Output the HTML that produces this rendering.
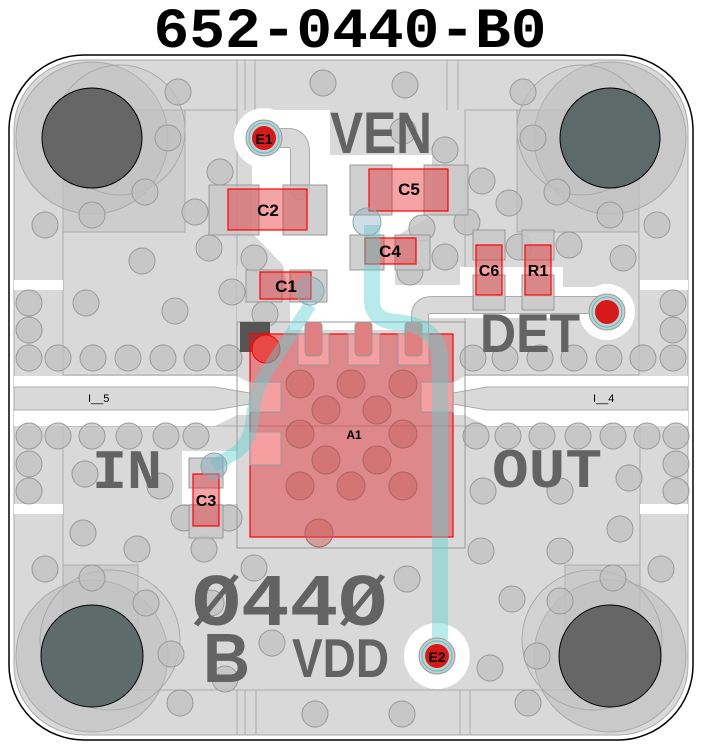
<!DOCTYPE html>
<html><head><meta charset="utf-8"><style>
html,body{margin:0;padding:0;background:#fff;}
svg{display:block;}
</style></head><body>
<svg width="701" height="746" viewBox="0 0 701 746" xmlns="http://www.w3.org/2000/svg" font-family="Liberation Sans, sans-serif">
<text x="350" y="47" text-anchor="middle" font-family="Liberation Mono, monospace" font-weight="bold" font-size="57" textLength="393" lengthAdjust="spacingAndGlyphs" fill="#000">652-0440-B0</text>
<rect x="9" y="55" width="684" height="685" rx="75" fill="#fff" stroke="#000" stroke-width="1.5"/>
<rect x="14" y="60" width="674" height="675" rx="70" fill="#d9d9d9" stroke="#aaa"/>
<!-- darker blocks -->
<g fill="#cdcdcd" stroke="#aaa">
<rect x="63" y="110" width="122" height="122"/>
<rect x="517" y="110" width="122" height="122"/>
<rect x="63" y="565" width="75" height="125"/>
<rect x="565" y="565" width="75" height="125"/>
</g>
<g fill="none" stroke="#aaa">
<rect x="63" y="110" width="174" height="265"/>
<rect x="465" y="110" width="174" height="265"/>
<rect x="63" y="426" width="577" height="264"/>
<line x1="237" y1="60" x2="237" y2="110"/><line x1="245" y1="60" x2="245" y2="110"/><line x1="255" y1="60" x2="255" y2="110"/>
<line x1="447" y1="60" x2="447" y2="110"/><line x1="458" y1="60" x2="458" y2="110"/>
<line x1="237" y1="690" x2="237" y2="735"/><line x1="245" y1="690" x2="245" y2="735"/><line x1="256" y1="690" x2="256" y2="735"/>
<line x1="460" y1="690" x2="460" y2="735"/><line x1="470" y1="690" x2="470" y2="735"/>
</g>
<!-- corner vias -->
<g stroke="#aaa" fill="#c2c2c2" fill-opacity="0.7">
<circle cx="92" cy="138" r="76"/><circle cx="610" cy="138" r="76"/>
<circle cx="92" cy="656" r="76"/><circle cx="610" cy="656" r="76"/>
<circle cx="120" cy="130" r="65" fill-opacity="0.3"/><circle cx="582" cy="130" r="65" fill-opacity="0.3"/>
<circle cx="110" cy="640" r="70" fill-opacity="0.3"/><circle cx="592" cy="640" r="70" fill-opacity="0.3"/>
</g>
<circle cx="92" cy="138" r="50" fill="#666" stroke="#000"/>
<circle cx="610" cy="138" r="50" fill="#5d6a6a" stroke="#000"/>
<circle cx="92" cy="656" r="51" fill="#5d6b6b" stroke="#000"/>
<circle cx="610" cy="656" r="51" fill="#666" stroke="#000"/>
<!-- white regions -->
<g fill="#fff">
<polygon points="252,110 330,110 330,155 432,155 432,215 395,237 395,285 460,285 460,267 563,267 563,287 600,287 600,318 420,318 405,330 290,330 290,300 283,265 252,233"/>
<circle cx="264" cy="138" r="30"/>
<circle cx="607" cy="312" r="28"/>
<circle cx="437" cy="656" r="33"/>
<rect x="14" y="280" width="49" height="10"/><rect x="640" y="280" width="48" height="10"/>
<rect x="14" y="504" width="49" height="10"/><rect x="640" y="504" width="48" height="10"/>
<polygon points="14,376 237,376 250,383 250,415 237,415 215,426 14,426"/>
<polygon points="688,376 465,376 453,383 453,415 465,415 487,426 688,426"/>
<rect x="182" y="451" width="56" height="53"/>
</g>
<g fill="#d9d9d9" stroke="#aaa">
<polygon points="14,387 215,387 250,393 250,404 215,410 14,410"/>
<polygon points="688,387 487,387 453,393 453,404 487,410 688,410"/>
<rect x="330" y="110" width="102" height="45" stroke="none"/>
<path d="M264,138 H288 Q300,138 300,152 V190" fill="none" stroke="#aaa" stroke-width="20" stroke-linecap="round"/>
<path d="M264,138 H288 Q300,138 300,152 V190" fill="none" stroke="#d9d9d9" stroke-width="18" stroke-linecap="round"/>
<path d="M420,340 V316 Q420,305 432,305 H600" fill="none" stroke="#aaa" stroke-width="18"/>
<path d="M420,340 V316 Q420,305 432,305 H600" fill="none" stroke="#d9d9d9" stroke-width="16"/>
<polygon points="395,237 432,215 432,285 395,285" stroke="none"/>
<polygon points="237,265 283,265 290,300 290,322 237,322" stroke="none"/>
</g>
<!-- small vias -->
<g fill="#c0c0c0" fill-opacity="0.75" stroke="#999">
<circle cx="178" cy="92" r="13"/><circle cx="323" cy="83" r="13"/><circle cx="405" cy="85" r="13"/><circle cx="523" cy="92" r="13"/>
<circle cx="168" cy="138" r="13"/><circle cx="220" cy="172" r="13"/><circle cx="145" cy="192" r="13"/><circle cx="92" cy="215" r="13"/><circle cx="45" cy="225" r="13"/><circle cx="195" cy="212" r="13"/><circle cx="209" cy="248" r="13"/><circle cx="142" cy="261" r="13"/><circle cx="254" cy="258" r="13"/><circle cx="232" cy="292" r="13"/><circle cx="86" cy="303" r="13"/><circle cx="175" cy="311" r="13"/><circle cx="265" cy="314" r="13"/>
<circle cx="29" cy="303" r="13"/><circle cx="29" cy="330" r="13"/>
<circle cx="29" cy="358" r="13"/><circle cx="58" cy="358" r="13"/><circle cx="93" cy="358" r="13"/><circle cx="128" cy="358" r="13"/><circle cx="163" cy="358" r="13"/><circle cx="197" cy="358" r="13"/><circle cx="229" cy="358" r="13"/>
<circle cx="403" cy="131" r="13"/><circle cx="445" cy="150" r="13"/><circle cx="482" cy="181" r="13"/><circle cx="509" cy="203" r="13"/><circle cx="467" cy="222" r="13"/><circle cx="422" cy="228" r="13"/><circle cx="445" cy="257" r="13"/><circle cx="410" cy="272" r="13"/><circle cx="519" cy="247" r="13"/><circle cx="569" cy="245" r="13"/><circle cx="557" cy="192" r="13"/><circle cx="533" cy="138" r="13"/><circle cx="610" cy="215" r="13"/><circle cx="657" cy="225" r="13"/><circle cx="623" cy="258" r="13"/><circle cx="673" cy="303" r="13"/><circle cx="673" cy="330" r="13"/>
<circle cx="473" cy="358" r="13"/><circle cx="505" cy="358" r="13"/><circle cx="540" cy="358" r="13"/><circle cx="574" cy="358" r="13"/><circle cx="609" cy="358" r="13"/><circle cx="643" cy="358" r="13"/><circle cx="673" cy="358" r="13"/>
<circle cx="29" cy="436" r="13"/><circle cx="58" cy="436" r="13"/><circle cx="92" cy="436" r="13"/><circle cx="129" cy="436" r="13"/><circle cx="166" cy="436" r="13"/><circle cx="196" cy="436" r="13"/>
<circle cx="476" cy="436" r="13"/><circle cx="508" cy="436" r="13"/><circle cx="542" cy="436" r="13"/><circle cx="578" cy="436" r="13"/><circle cx="613" cy="436" r="13"/><circle cx="647" cy="436" r="13"/><circle cx="676" cy="436" r="13"/>
<circle cx="29" cy="464" r="13"/><circle cx="29" cy="491" r="13"/><circle cx="676" cy="464" r="13"/><circle cx="676" cy="491" r="13"/>
<circle cx="85" cy="474" r="13"/><circle cx="160" cy="486" r="13"/><circle cx="483" cy="491" r="13"/><circle cx="560" cy="491" r="13"/><circle cx="629" cy="478" r="13"/>
<circle cx="83" cy="533" r="13"/><circle cx="137" cy="549" r="13"/><circle cx="45" cy="569" r="13"/><circle cx="92" cy="578" r="13"/><circle cx="146" cy="603" r="13"/><circle cx="171" cy="654" r="13"/><circle cx="204" cy="549" r="13"/><circle cx="184" cy="518" r="13"/><circle cx="229" cy="518" r="13"/><circle cx="254" cy="568" r="13"/><circle cx="272" cy="643" r="13"/><circle cx="225" cy="679" r="13"/><circle cx="180" cy="703" r="13"/><circle cx="315" cy="714" r="13"/><circle cx="402" cy="714" r="13"/><circle cx="407" cy="579" r="13"/><circle cx="481" cy="551" r="13"/><circle cx="490" cy="668" r="13"/><circle cx="512" cy="599" r="13"/><circle cx="560" cy="551" r="13"/><circle cx="560" cy="601" r="13"/><circle cx="620" cy="529" r="13"/><circle cx="661" cy="569" r="13"/><circle cx="613" cy="578" r="13"/><circle cx="537" cy="656" r="13"/><circle cx="528" cy="703" r="13"/><circle cx="211" cy="603" r="13"/>
</g>
<!-- pads gray -->
<g fill="#c8c8c8" fill-opacity="0.85" stroke="#999">
<rect x="209" y="185" width="50" height="50"/><rect x="283" y="185" width="44" height="50"/>
<rect x="246" y="270" width="36" height="32"/><rect x="290" y="270" width="37" height="32"/>
<rect x="350" y="165" width="42" height="50"/><rect x="424" y="165" width="44" height="50"/>
<rect x="350" y="235" width="34" height="35"/><rect x="395" y="235" width="35" height="35"/>
<rect x="473" y="230" width="32" height="30"/><rect x="473" y="275" width="32" height="35"/>
<rect x="522" y="230" width="32" height="30"/><rect x="522" y="275" width="32" height="35"/>
<rect x="189" y="458" width="34" height="30"/><rect x="189" y="505" width="34" height="33"/>
</g>
<rect x="237" y="322" width="228" height="226" fill="none" stroke="#999"/>
<rect x="240" y="322" width="30" height="30" fill="#555"/>
<!-- text labels big -->
<g fill="#636363" font-weight="bold">
<text x="330" y="153" font-size="58" textLength="102" lengthAdjust="spacingAndGlyphs">VEN</text>
<text x="480" y="352" font-size="55" textLength="100" lengthAdjust="spacingAndGlyphs">DET</text>
<text x="92" y="488" font-family="Liberation Mono, monospace" font-size="56" textLength="70" lengthAdjust="spacingAndGlyphs">IN</text>
<text x="492" y="487" font-family="Liberation Mono, monospace" font-size="56" textLength="110" lengthAdjust="spacingAndGlyphs">OUT</text>
<text x="192" y="625" font-family="Liberation Mono, monospace" font-size="74" textLength="195" lengthAdjust="spacingAndGlyphs">Ø44Ø</text>
<text x="203" y="682" font-size="70" textLength="47" lengthAdjust="spacingAndGlyphs">B</text>
<text x="292" y="677" font-size="55" textLength="97" lengthAdjust="spacingAndGlyphs">VDD</text>
</g>
<!-- A1 -->
<rect x="250" y="334" width="203" height="203" fill="#e8191f" fill-opacity="0.42" stroke="#f00" stroke-width="1.2"/>
<g fill="#ffaaaa" fill-opacity="0.7" stroke="#999">
<rect x="298" y="334" width="31" height="31"/><rect x="348" y="334" width="32" height="31"/><rect x="398" y="334" width="31" height="31"/>
<rect x="250" y="382" width="31" height="30"/><rect x="250" y="432" width="31" height="33"/><rect x="421" y="382" width="32" height="30"/>
</g>
<g fill="#e08080" stroke="#999"><rect x="305" y="322" width="17" height="34" rx="4"/><rect x="355" y="322" width="17" height="34" rx="4"/><rect x="405" y="322" width="17" height="34" rx="4"/></g>
<g fill="#c86060" fill-opacity="0.5" stroke="#a66">
<circle cx="300" cy="384" r="14"/><circle cx="351" cy="384" r="14"/><circle cx="403" cy="384" r="14"/>
<circle cx="326" cy="410" r="14"/><circle cx="377" cy="410" r="14"/>
<circle cx="300" cy="434" r="14"/><circle cx="403" cy="434" r="14"/>
<circle cx="326" cy="460" r="14"/><circle cx="377" cy="460" r="14"/>
<circle cx="300" cy="486" r="14"/><circle cx="351" cy="486" r="14"/><circle cx="403" cy="486" r="14"/>
<circle cx="319" cy="533" r="14"/>
</g>
<circle cx="266" cy="349" r="14" fill="#e84848" stroke="#f00"/>
<!-- red component rects -->
<g fill="#e8191f" fill-opacity="0.4" stroke="#f00" stroke-width="1.2">
<rect x="228" y="189" width="79" height="41"/>
<rect x="260" y="272" width="51" height="27"/>
<rect x="369" y="169" width="79" height="42"/>
<rect x="365" y="238" width="51" height="26"/>
<rect x="476" y="245" width="26" height="50"/>
<rect x="525" y="245" width="26" height="50"/>
<rect x="193" y="474" width="26" height="52"/>
</g>
<!-- cyan traces -->
<g fill="none" stroke-linejoin="round">
<path d="M310,305 L268,370 Q255,390 252,420 Q250,445 232,455 L213,466" stroke="#5fd0d0" stroke-opacity="0.45" stroke-width="13"/>
<path d="M372,225 V300 Q372,320 395,322 Q440,325 440,360 V640" stroke="#5fd0d0" stroke-opacity="0.45" stroke-width="16"/>
</g>
<!-- vias E1 E2 DET -->
<g>
<circle cx="264" cy="138" r="18" fill="#ccc" stroke="#999"/><circle cx="264" cy="138" r="15" fill="none" stroke="#3cc"/><circle cx="264" cy="138" r="12" fill="#d41a1a"/>
<circle cx="437" cy="656" r="18" fill="#ccc" stroke="#999"/><circle cx="437" cy="656" r="15" fill="none" stroke="#3cc"/><circle cx="437" cy="656" r="12" fill="#d41a1a"/>
<circle cx="607" cy="312" r="18" fill="#ccc" stroke="#999"/><circle cx="607" cy="312" r="15" fill="none" stroke="#3cc"/><circle cx="607" cy="312" r="12" fill="#d41a1a"/>
<circle cx="214" cy="466" r="13" fill="#8ab" fill-opacity="0.5" stroke="#8aa"/>
<circle cx="310" cy="291" r="14" fill="#8ab" fill-opacity="0.4" stroke="#8aa"/>
<circle cx="367" cy="222" r="14" fill="#8ab" fill-opacity="0.4" stroke="#8aa"/>
</g>
<!-- small labels -->
<g fill="#000" font-weight="bold" text-anchor="middle">
<text x="268" y="216" font-size="17">C2</text>
<text x="286" y="292" font-size="17">C1</text>
<text x="409" y="195" font-size="17">C5</text>
<text x="390" y="257" font-size="17">C4</text>
<text x="489" y="276" font-size="16">C6</text>
<text x="538" y="276" font-size="16">R1</text>
<text x="206" y="506" font-size="16">C3</text>
<text x="264" y="144" font-size="14">E1</text>
<text x="437" y="662" font-size="14">E2</text>
<text x="354" y="439" font-size="12">A1</text>
</g>
<g fill="#000" font-size="11"><text x="88" y="402">I__5</text><text x="593" y="402">I__4</text></g>
</svg>
</body></html>
